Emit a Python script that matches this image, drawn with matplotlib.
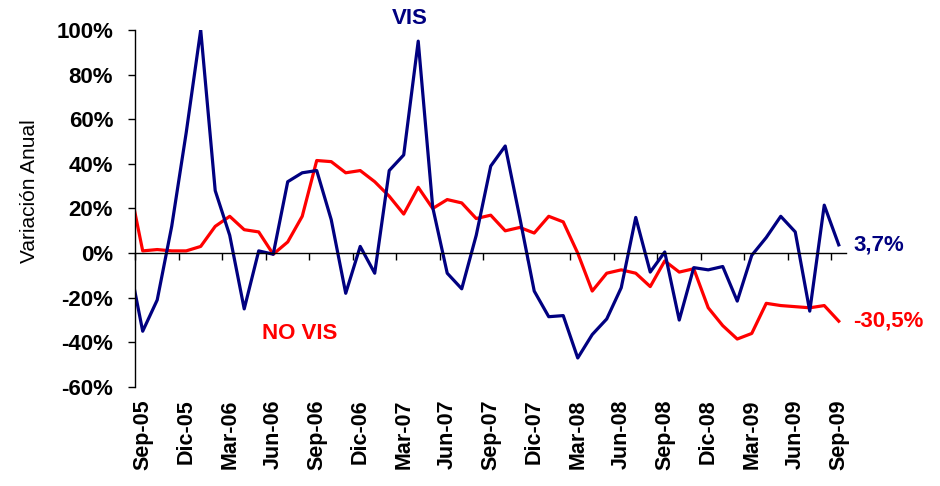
import numpy as np
import matplotlib
matplotlib.use("Agg")
import matplotlib.pyplot as plt

plt.rcParams['font.family'] = ['Liberation Sans', 'DejaVu Sans']

# etiquetas trimestrales del eje x
meses = ["Sep-05", "Dic-05", "Mar-06", "Jun-06", "Sep-06", "Dic-06",
         "Mar-07", "Jun-07", "Sep-07", "Dic-07", "Mar-08", "Jun-08",
         "Sep-08", "Dic-08", "Mar-09", "Jun-09", "Sep-09"]

# variacion anual mensual (%), primer valor = Ago-05 (queda cortado por el eje)
vis = [-2, -35, -21, 12, 54, 100, 28, 8, -25, 1, -0.5,
       32, 36, 37, 15, -18, 3, -9, 37, 44, 95,
       20.5, -9, -16, 8, 39, 48, 16, -17, -28.5, -28,
       -47, -36.5, -29.5, -15.5, 16, -8.5, 0.5, -30, -6.5, -7.5,
       -6, -21.5, -1, 7, 16.5, 9.5, -26, 21.5, 3.7]
no_vis = [33, 1, 1.6, 1, 1, 3, 12, 16.5, 10.5, 9.5, -0.5,
          5, 16.5, 41.5, 41, 36, 37, 32, 25.5, 17.5, 29.5,
          20, 24, 22.5, 15.5, 17, 10, 11.5, 9, 16.5, 14,
          0, -17, -9, -7.5, -9, -15, -3.5, -8.5, -7, -24.5,
          -32.5, -38.5, -36, -22.5, -23.5, -24, -24.5, -23.5, -30.5]

AZUL = '#000080'
ROJO = '#ff0000'

x = np.arange(len(vis)) - 1

fig = plt.figure(figsize=(9.4, 4.86), dpi=100)
ax = fig.add_axes([0.1441, 0.2037, 0.7559, 0.7346])

ax.plot(x, no_vis, color=ROJO, lw=2.3)
ax.plot(x, vis, color=AZUL, lw=2.3)

ax.set_xlim(-0.5, 48.5)
ax.set_ylim(-60, 100)

yt = np.arange(-60, 101, 20)
ax.set_yticks(yt, labels=["{:.0f}%".format(v) for v in yt],
              fontweight='bold', fontsize=16)
ax.tick_params(axis='y', length=5, width=1, pad=11)

ax.spines['top'].set_visible(False)
ax.spines['right'].set_visible(False)
ax.spines['bottom'].set_position(('data', 0))
ax.spines['left'].set_linewidth(1)
ax.spines['bottom'].set_linewidth(1)

# marcas entre categorias, cada 3 meses
ax.set_xticks(np.arange(-0.5, 49, 3))
ax.tick_params(axis='x', length=5, width=1, labelbottom=False)

# etiquetas abajo del area de grafico
sec = ax.secondary_xaxis('bottom')
sec.set_xticks(np.arange(0, 49, 3), labels=meses, rotation=90,
               fontweight='bold', fontsize=15.5)
sec.tick_params(length=0, pad=9)
sec.spines['bottom'].set_visible(False)

ax.text(18.4, 105, "VIS", color=AZUL, fontweight='bold', fontsize=16,
        ha='center', va='center', clip_on=False)
ax.text(10.8, -35.8, "NO VIS", color=ROJO, fontweight='bold', fontsize=16,
        ha='center', va='center')

def pct(v):
    return "{:.1f}%".format(v).replace('.', ',')

ax.text(x[-1] + 1.0, vis[-1], pct(vis[-1]), color=AZUL, fontweight='bold',
        fontsize=16, ha='left', va='center', clip_on=False)
ax.text(x[-1] + 1.0, no_vis[-1], pct(no_vis[-1]), color=ROJO, fontweight='bold',
        fontsize=16, ha='left', va='center', clip_on=False)

fig.text(30 / 940, 1 - 191 / 486, "Variación Anual", rotation=90,
         ha='center', va='center', fontsize=15)

fig.savefig('out.png', dpi=100)
